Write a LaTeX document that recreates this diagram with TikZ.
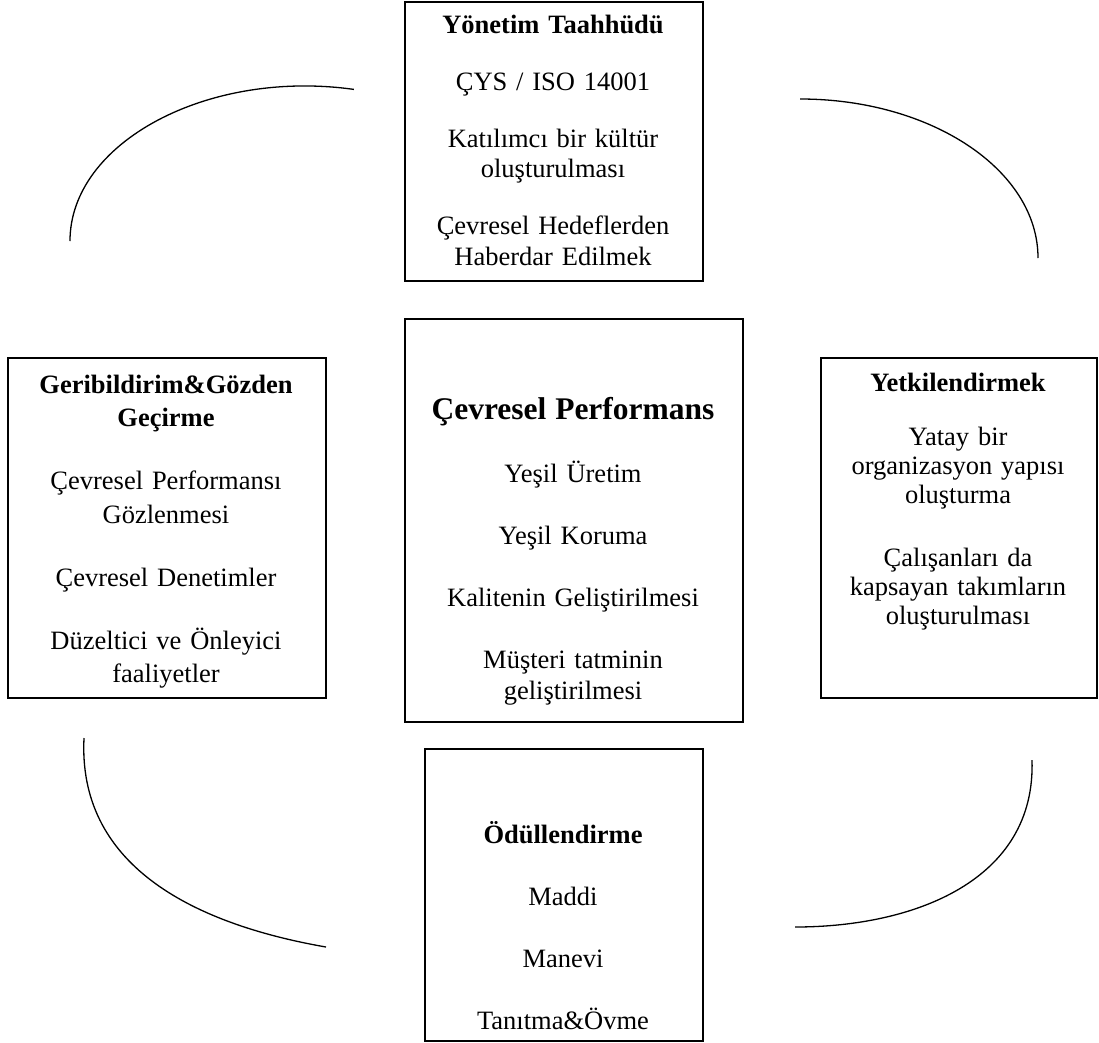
\documentclass[tikz,border=0pt]{standalone}
\usepackage{fontspec}
\setmainfont{Liberation Serif}
\tikzset{
  boxst/.style={draw=black, line width=1.6pt, inner sep=0pt, anchor=north west},
  txt/.style={anchor=base, inner sep=0pt, align=center, text=black},
  arcst/.style={draw=black, line width=1.3pt}
}
\begin{document}
\begin{tikzpicture}[x=1pt,y=-1pt]
\useasboundingbox (0,0) rectangle (1099,1042);
% boxes
\node[boxst, minimum width=298pt, minimum height=279pt] (topbox) at (404,1) {};
\node[boxst, minimum width=338pt, minimum height=403pt] (centerbox) at (404,318) {};
\node[boxst, minimum width=318pt, minimum height=340pt] (leftbox) at (7,357) {};
\node[boxst, minimum width=276pt, minimum height=340pt] (rightbox) at (820,357) {};
\node[boxst, minimum width=278pt, minimum height=292pt] (bottombox) at (424,748) {};
% texts
\node[txt, text width=290pt, font=\fontsize{26.5}{30.5}\selectfont] (toptext) at (553,33) {%
\textbf{Yönetim Taahhüdü}\\[26.5pt]
ÇYS / ISO 14001\\[26.5pt]
Katılımcı bir kültür\\
oluşturulması\\[26.5pt]
Çevresel Hedeflerden\\
Haberdar Edilmek};
\node[txt, text width=330pt, font=\fontsize{26.5}{31}\selectfont] (centertext) at (573,419) {%
{\fontsize{31.5}{31}\selectfont\bfseries Çevresel Performans}\\[32pt]
Yeşil Üretim\\[31pt]
Yeşil Koruma\\[31pt]
Kalitenin Geliştirilmesi\\[31pt]
Müşteri tatminin\\
geliştirilmesi};
\node[txt, text width=305pt, font=\fontsize{26.5}{33.5}\selectfont] (lefttext) at (166,393) {%
\textbf{Geribildirim\&Gözden}\\
\textbf{Geçirme}\\[29.5pt]
Çevresel Performansı\\
Gözlenmesi\\[29.5pt]
Çevresel Denetimler\\[29.5pt]
Düzeltici ve Önleyici\\
faaliyetler};
\node[txt, text width=266pt, font=\fontsize{26.5}{29}\selectfont] (righttext) at (958,391) {%
\textbf{Yetkilendirmek}\\[25pt]
Yatay bir\\
organizasyon yapısı\\
oluşturma\\[34pt]
Çalışanları da\\
kapsayan takımların\\
oluşturulması};
\node[txt, text width=268pt, font=\fontsize{26.5}{31}\selectfont] (bottomtext) at (563,843) {%
\textbf{Ödüllendirme}\\[31pt]
Maddi\\[31pt]
Manevi\\[31pt]
Tanıtma\&Övme};
% arcs
\coordinate (tla) at (353.9,89.4);
\coordinate (tlb) at (70,241);
\coordinate (tra) at (800,99);
\coordinate (trb) at (1038,258);
\coordinate (bra) at (1032,760);
\coordinate (brb) at (795,927);
\coordinate (bla) at (84,738);
\coordinate (blb) at (326,947);
\draw[arcst] (tla) .. controls (207.7,68.9) and (70,142.4) .. (tlb);
\draw[arcst] (tra) .. controls (931.4,99) and (1038,170.2) .. (trb);
\draw[arcst] (bra) .. controls (1036,880) and (915,927) .. (brb);
\draw[arcst] (bla) .. controls (77.8,862.8) and (188.1,922.9) .. (blb);
\end{tikzpicture}
\end{document}
